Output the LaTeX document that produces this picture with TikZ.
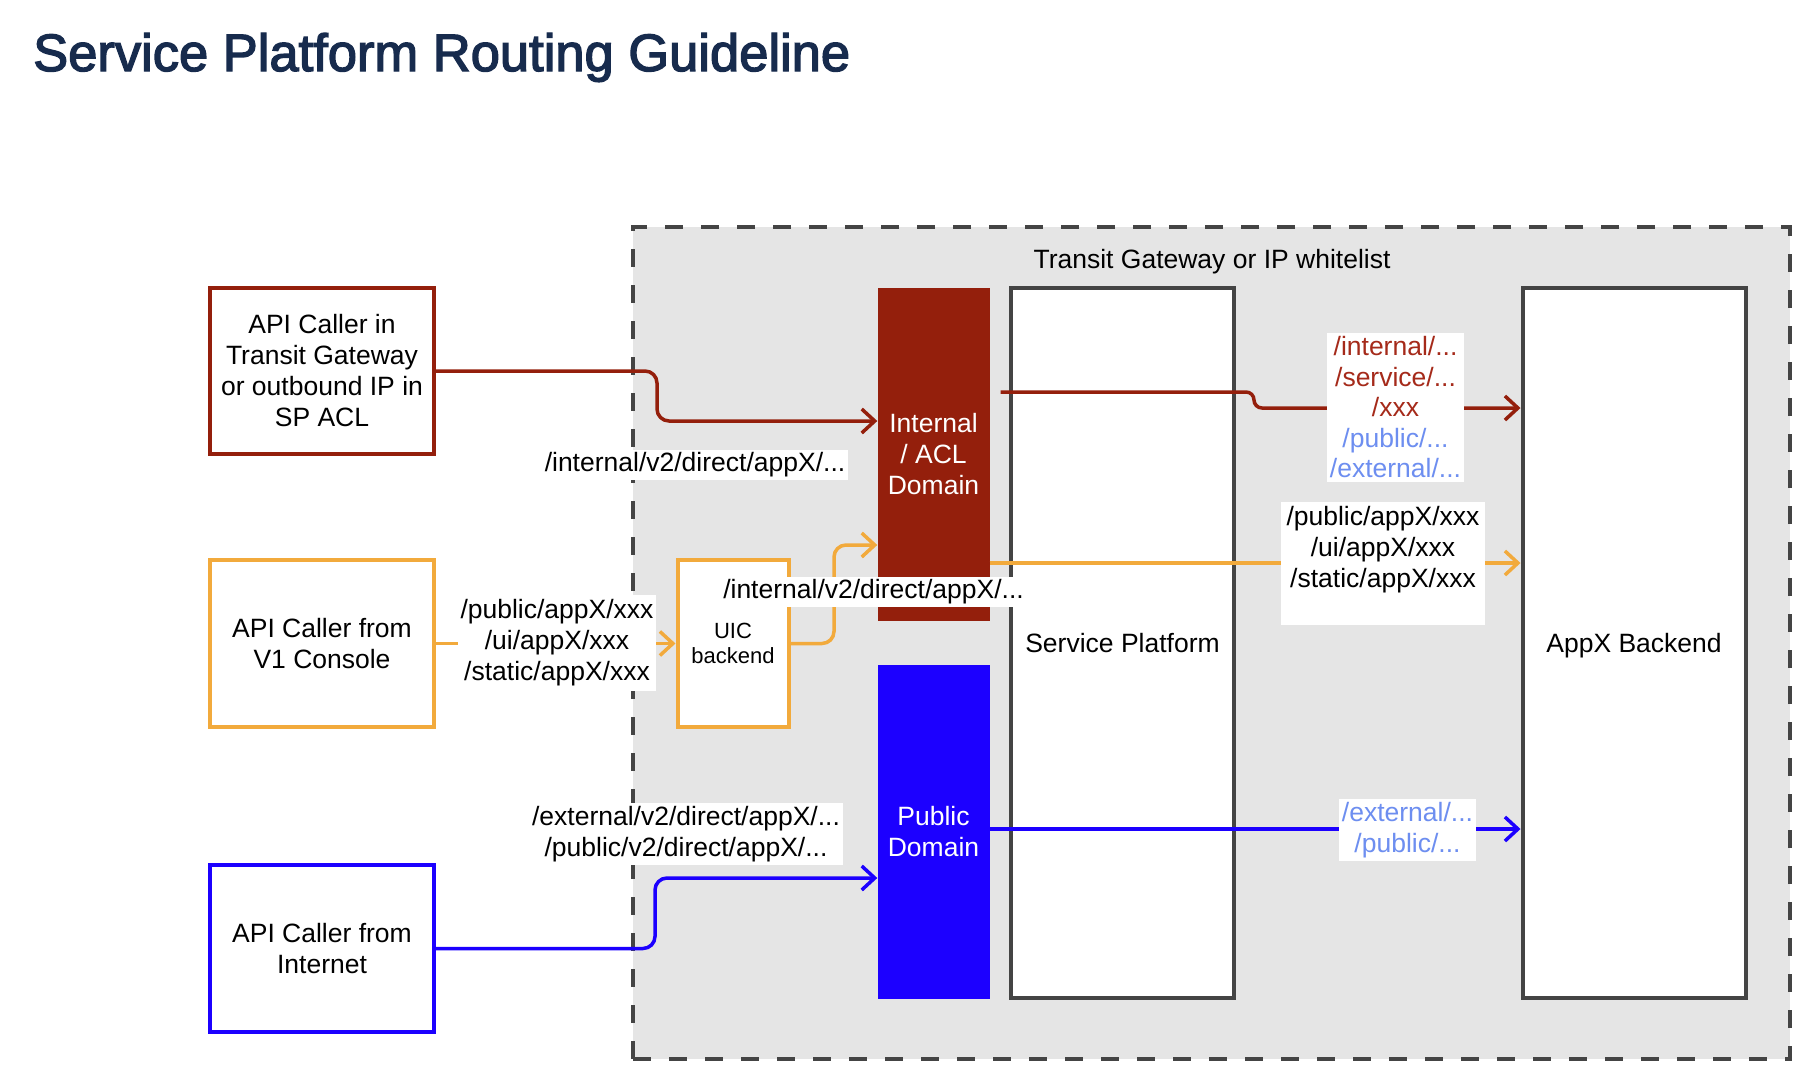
\documentclass[tikz,border=0pt]{standalone}
\usepackage{fontspec}
\setmainfont{Liberation Sans}
\newfontfamily\titlefont[FakeBold=2.6]{Liberation Sans}
\usetikzlibrary{arrows.meta}
\definecolor{rd}{HTML}{941F0C}
\definecolor{org}{HTML}{F2AA3C}
\definecolor{bl}{HTML}{1C00FF}
\definecolor{lblue}{HTML}{6D8EF0}
\definecolor{lred}{HTML}{A52A1A}
\definecolor{dg}{HTML}{444444}
\definecolor{zonebg}{HTML}{E5E5E5}
\definecolor{titlec}{HTML}{172B4D}
\tikzset{
  bodyfont/.style={font=\fontsize{26.5}{31}\selectfont},
  callerbox/.style={draw, line width=4pt, fill=white, minimum width=224pt, minimum height=166pt, align=center, inner sep=0pt, bodyfont},
  graybox/.style={draw=dg, line width=4pt, fill=white, minimum width=223pt, minimum height=710pt, inner sep=0pt, text height=19.3pt, text depth=0pt, bodyfont},
  domainbox/.style={text=white, minimum width=112pt, minimum height=333pt, align=center, inner sep=0pt, bodyfont},
  pathlabel/.style={fill=white, align=center, inner xsep=3pt, inner ysep=3pt, bodyfont},
  conn/.style={line width=3.5pt, -{Straight Barb[length=13pt,width=24pt]}},
}
\begin{document}
\begin{tikzpicture}[x=1pt,y=-1pt]
\useasboundingbox (0,0) rectangle (1818,1092);
\fill[white] (0,0) rectangle (1818,1092);

% title
\node[anchor=base west, inner sep=0pt, text=titlec, font=\titlefont\fontsize{52.5}{60}\selectfont] (title) at (33,71) {Service Platform Routing Guideline};

% zone
\node[draw=dg, fill=zonebg, line width=4.5pt, dash pattern=on 18pt off 18pt, minimum width=1157pt, minimum height=832pt, inner sep=0pt] (zone) at (1211.5,643) {};
\node[bodyfont, inner sep=0pt] (zonelabel) at (1212,262) {Transit Gateway or IP whitelist};

% big boxes
\node[graybox] (sp) at (1122.5,643) {Service Platform};
\node[graybox] (appx) at (1634,643) {AppX Backend};

% domains
\node[domainbox, fill=rd] (redDom) at (933.5,454.5) {Internal\\/ ACL\\Domain};
\node[domainbox, fill=bl, minimum height=334pt] (blueDom) at (933.5,832) {Public\\Domain};

% callers
\node[callerbox, draw=rd] (c1) at (322,371) {API Caller in\\Transit Gateway\\or outbound IP in\\SP ACL};
\node[callerbox, draw=org, minimum height=167pt] (c2) at (322,643.5) {API Caller from\\V1 Console};
\node[callerbox, draw=bl, minimum height=167pt] (c3) at (322,948.5) {API Caller from\\Internet};

% UIC backend
\node[draw=org, line width=4pt, fill=white, minimum width=111pt, minimum height=167pt, align=center, inner sep=0pt, font=\fontsize{22}{25.5}\selectfont] (uic) at (733,643.5) {UIC\\backend};

% connectors left
\draw[conn, draw=rd, rounded corners=12pt] (c1.east) -- (657,371) -- (657,421) -- (redDom.west |- 0,421);
\draw[conn, draw=org] (c2.east) -- (uic.west);
\draw[conn, draw=org, rounded corners=12pt] (uic.east) -- (834,643.5) -- (834,545) -- (redDom.west |- 0,545);
\draw[conn, draw=bl, rounded corners=12pt] (c3.east) -- (655,948.5) -- (655,878) -- (blueDom.west |- 0,878);

% connectors right
\path (redDom.east |- 0,392) ++(11,0) coordinate (r0);
\draw[conn, draw=rd, rounded corners=8pt] (r0) -- (1254,392) -- (1254,408) -- (appx.west |- 0,408);
\draw[conn, draw=org] (redDom.east |- 0,563) -- (appx.west |- 0,563);
\draw[conn, draw=bl] (blueDom.east |- 0,829) -- (appx.west |- 0,829);

% labels left
\node[pathlabel, inner ysep=2.5pt] (l1) at (695,465) {/internal/v2/direct/appX/...};
\node[pathlabel, inner ysep=5pt] (l2) at (557,643) {/public/appX/xxx\\/ui/appX/xxx\\/static/appX/xxx};
\node[pathlabel, inner ysep=2.5pt] (l3) at (873.5,592) {/internal/v2/direct/appX/...};
\node[pathlabel] (l4) at (686,834) {/external/v2/direct/appX/...\\/public/v2/direct/appX/...};

% labels right
\node[pathlabel, font=\fontsize{26.5}{30.5}\selectfont, inner ysep=4pt] (r1) at (1395.5,407.5) {\textcolor{lred}{/internal/...}\\\textcolor{lred}{/service/...}\\\textcolor{lred}{/xxx}\\\textcolor{lblue}{/public/...}\\\textcolor{lblue}{/external/...}};
\node[fill=white, minimum width=204pt, minimum height=123pt, inner sep=0pt] (r2bg) at (1383,563.5) {};
\node[bodyfont, align=center, inner sep=0pt] (r2) at (1383,550) {/public/appX/xxx\\/ui/appX/xxx\\/static/appX/xxx};
\node[pathlabel, text=lblue] (r3) at (1407.5,830) {/external/...\\/public/...};
\end{tikzpicture}
\end{document}
